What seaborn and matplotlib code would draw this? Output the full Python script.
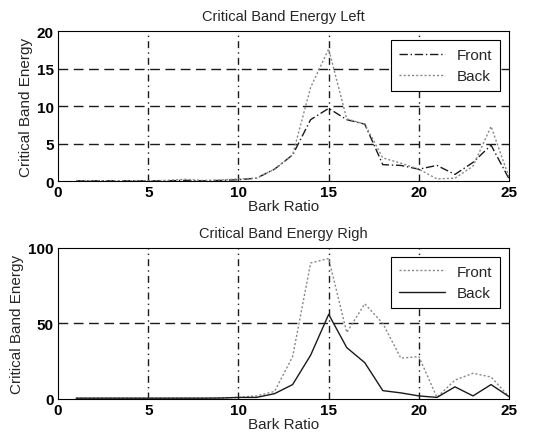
import numpy as np
import pandas as pd
import matplotlib
matplotlib.use("Agg")
import matplotlib.pyplot as plt
import seaborn as sns

bark = list(range(1, 26))

left_front = [0.05, 0.05, 0.05, 0.05, 0.05, 0.05, 0.1, 0.05, 0.1, 0.2,
              0.4, 1.6, 3.5, 8.2, 9.7, 8.2, 7.6, 2.2, 2.1, 1.6,
              2.1, 0.9, 2.5, 4.8, 0.3]
left_back = [0.05, 0.05, 0.05, 0.05, 0.05, 0.1, 0.25, 0.1, 0.15, 0.3,
             0.4, 1.6, 3.5, 12.5, 17.6, 8.3, 7.6, 3.1, 2.4, 1.6,
             0.3, 0.4, 2.0, 7.3, 0.5]

right_front = [0.5, 0.5, 0.5, 0.5, 0.5, 0.5, 0.5, 0.5, 0.6, 1.0,
               2.0, 5.0, 28.0, 90.0, 93.0, 44.0, 63.0, 50.0, 27.0, 28.0,
               1.0, 12.5, 17.0, 14.5, 1.5]
right_back = [0.5, 0.5, 0.5, 0.5, 0.5, 0.5, 0.5, 0.5, 0.6, 1.0,
              1.0, 3.5, 9.5, 29.0, 56.0, 34.0, 24.0, 5.5, 4.0, 2.0,
              1.0, 8.0, 2.0, 9.5, 1.5]

titles = ["Critical Band Energy Left", "Critical Band Energy Righ"]
xlabel = "Bark Ratio"
ylabel = "Critical Band Energy"
series_names = ["Front", "Back"]
x_ticks = [0, 5, 10, 15, 20, 25]
y_ticks_top = [0, 5, 10, 15, 20]
y_ticks_bottom = [0, 50, 100]

sns.set_style("white")
plt.rcParams["font.family"] = ["Liberation Sans", "DejaVu Sans"]

fig = plt.figure(figsize=(5.48, 4.39), dpi=100)
ax1 = fig.add_axes([0.106, 0.585, 0.823, 0.342])
ax2 = fig.add_axes([0.106, 0.089, 0.823, 0.344])

def draw(ax, front, back, styles, ylim, yticks, title):
    df = pd.DataFrame({"x": bark * 2,
                       "y": front + back,
                       "s": [series_names[0]] * len(bark) + [series_names[1]] * len(bark)})
    for name, (ls, col) in zip(series_names, styles):
        sub = df[df["s"] == name]
        sns.lineplot(data=sub, x="x", y="y", ax=ax, color=col, linestyle=ls,
                     linewidth=1.0, label=name)
    ax.set_xlim(0, 25)
    ax.set_ylim(*ylim)
    ax.set_xticks(x_ticks)
    ax.set_yticks(yticks)
    ax.set_xticklabels([str(t) for t in x_ticks], fontweight="bold", fontsize=11)
    ax.set_yticklabels([str(t) for t in yticks], fontweight="bold", fontsize=11)
    ax.tick_params(axis="both", direction="in", length=2, pad=3, colors="black")
    for t in x_ticks[1:-1]:
        ax.axvline(t, color="#1a1a1a", linestyle=(0, (5, 3, 1, 3)), linewidth=1.0, zorder=0)
    for t in yticks[1:-1]:
        ax.axhline(t, color="#1a1a1a", linestyle=(0, (7, 4)), linewidth=1.0, zorder=0)
    for sp in ax.spines.values():
        sp.set_visible(True)
        sp.set_color("black")
        sp.set_linewidth(0.8)
    ax.set_title(title, fontsize=10.5, pad=8)
    ax.set_xlabel(xlabel, fontsize=11, labelpad=0)
    ax.set_ylabel(ylabel, fontsize=11, labelpad=3)
    leg = ax.legend(loc="upper right", frameon=True, fancybox=False, fontsize=11,
                    handlelength=3.0, borderaxespad=0.6, edgecolor="black",
                    framealpha=1, borderpad=0.5, labelspacing=0.5)
    leg.get_frame().set_linewidth(0.8)

draw(ax1, left_front, left_back,
     [((0, (6, 2, 1, 2)), "#1a1a1a"), ((0, (1.5, 1.5)), "#888888")],
     (0, 20), y_ticks_top, titles[0])
draw(ax2, right_front, right_back,
     [((0, (1.5, 1.5)), "#888888"), ("-", "#1a1a1a")],
     (0, 100), y_ticks_bottom, titles[1])

fig.savefig("out.png", dpi=100)
